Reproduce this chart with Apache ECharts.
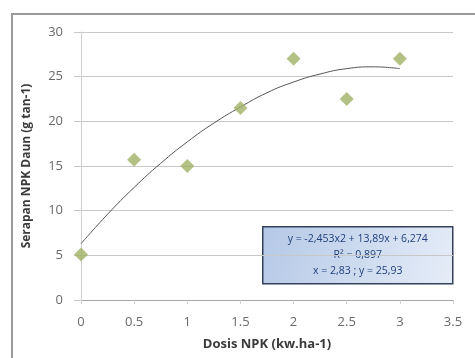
<!DOCTYPE html>
<html>
<head>
<meta charset="utf-8">
<script src="https://cdn.jsdelivr.net/npm/echarts@6/dist/echarts.min.js"></script>
<style>
  html, body { margin: 0; padding: 0; background: #fff; }
  #chart { width: 475px; height: 358px; }
</style>
</head>
<body>
<div id="chart"></div>
<script>
  // observed points
  const dosis = [0, 0.5, 1, 1.5, 2, 2.5, 3];
  const serapan = [5.1, 15.7, 15.0, 21.5, 27.0, 22.5, 27.0];

  // trendline
  const trendX = [0, 0.25, 0.5, 0.75, 1, 1.25, 1.5, 1.75, 2, 2.25, 2.5, 2.75, 3];
  const trendY = [6.3, 9.6, 12.6, 15.3, 17.7, 19.8, 21.6, 23.2, 24.4, 25.3, 25.9, 26.1, 25.9];

  const yTicks = [0, 5, 10, 15, 20, 25, 30];
  const eqLines = ['y = -2,453x2 + 13,89x + 6,274', 'R² = 0,897', 'x = 2,83 ; y = 25,93'];

  const chart = echarts.init(document.getElementById('chart'));

  chart.setOption({
    animation: false,
    backgroundColor: '#fff',
    grid: { left: 81, right: 22, top: 32, bottom: 58 },
    xAxis: {
      type: 'value',
      min: 0, max: 3.5, interval: 0.5,
      name: 'Dosis NPK (kw.ha-1)',
      nameLocation: 'middle',
      nameGap: 38,
      nameTextStyle: { fontFamily: 'Open Sans', fontSize: 13, fontWeight: 'bold', color: '#3a3a3a' },
      axisLine: { lineStyle: { color: '#a6a6a6' } },
      axisTick: { show: true, length: 4, lineStyle: { color: '#d0d0d0' } },
      axisLabel: { fontFamily: 'Open Sans', fontSize: 13, color: '#6a6a6a', margin: 16 },
      splitLine: { show: false }
    },
    yAxis: {
      type: 'value',
      min: yTicks[0], max: yTicks[yTicks.length - 1], interval: 5,
      name: 'Serapan NPK Daun (g tan-1)',
      nameLocation: 'middle',
      nameGap: 48,
      nameTextStyle: { fontFamily: 'Open Sans', fontSize: 12, fontWeight: 'bold', color: '#3a3a3a' },
      axisLine: { show: true, lineStyle: { color: '#cfcfcf' } },
      axisTick: { show: true, length: 7, lineStyle: { color: '#c8c8c8' } },
      axisLabel: { fontFamily: 'Open Sans', fontSize: 13, color: '#6a6a6a', margin: 18 },
      splitLine: { lineStyle: { color: '#c8c8c8' } }
    },
    graphic: [
      {
        // outer frame: only top and left edges are visible in the crop
        type: 'polyline',
        shape: { points: [[12, 360], [12, 14], [475, 14]] },
        style: { fill: null, stroke: '#9a9a9a', lineWidth: 2 },
        silent: true
      },
      {
        type: 'group',
        left: 262, top: 226,
        children: [
          {
            type: 'rect',
            shape: { x: 0, y: 0, width: 190, height: 57 },
            style: {
              fill: new echarts.graphic.LinearGradient(0, 0, 1, 1, [
                { offset: 0, color: '#b4c8e6' },
                { offset: 1, color: '#e6edf8' }
              ]),
              stroke: '#34415a', lineWidth: 1.5
            }
          },
          {
            type: 'text',
            style: {
              x: 95, y: 4,
              text: eqLines.join('\n'),
              align: 'center',
              lineHeight: 16,
              fontFamily: 'Open Sans', fontSize: 10.5,
              fill: '#1f3f7a'
            }
          }
        ]
      }
    ],
    series: [
      {
        type: 'line',
        data: trendX.map((x, i) => [x, trendY[i]]),
        smooth: true,
        showSymbol: false,
        lineStyle: { color: '#555', width: 1 },
        silent: true,
        z: 2
      },
      {
        type: 'scatter',
        data: dosis.map((x, i) => [x, serapan[i]]),
        symbol: 'diamond',
        symbolSize: 14,
        itemStyle: { color: '#a1b266' },
        z: 3
      }
    ]
  });
</script>
</body>
</html>
